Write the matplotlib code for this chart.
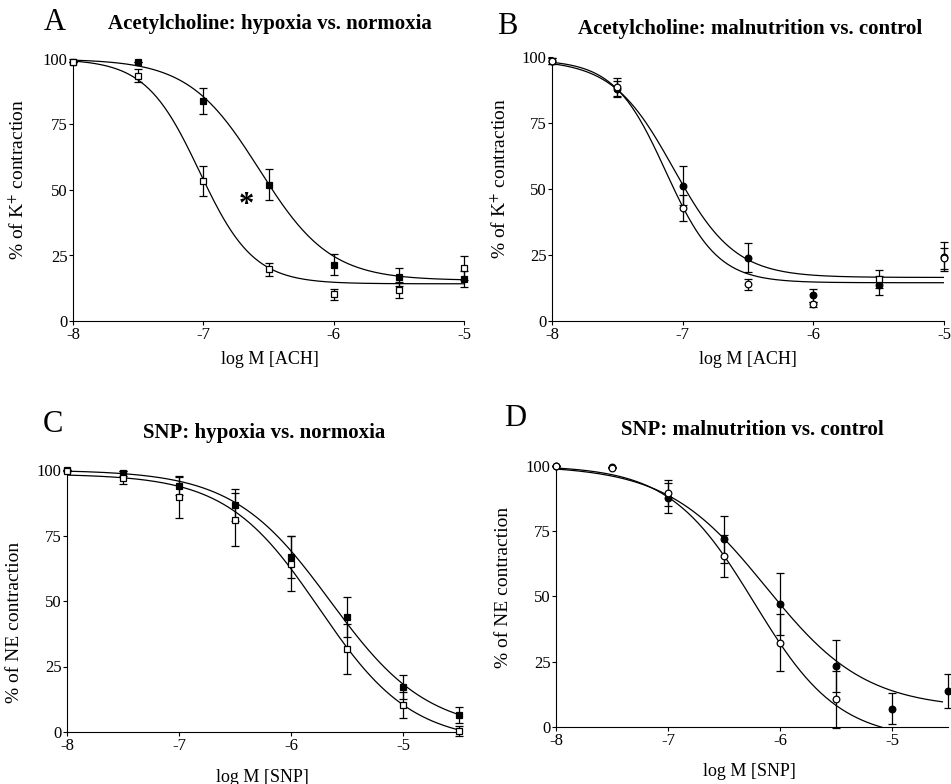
import numpy as np
import matplotlib
matplotlib.use("Agg")
import matplotlib.pyplot as plt

plt.rcParams["font.family"] = ["Liberation Serif", "DejaVu Serif"]
plt.rcParams["mathtext.fontset"] = "stix"

# --- data (log M, % contraction, SEM) ---
ach_x = [-8, -7.5, -7, -6.5, -6, -5.5, -5]
a_hyp = [99, 99, 84, 52, 21.5, 16.7, 16]
a_hyp_err = [0, 0, 5, 6, 4, 3.5, 3]
a_norm = [99, 93.6, 53.4, 19.8, 10.2, 11.9, 20.2]
a_norm_err = [0, 2.5, 5.7, 2.5, 2, 3, 4.5]

b_maln = [98.5, 87.8, 51.3, 23.9, 9.7, 13.5, 24.3]
b_maln_err = [1, 3, 7.5, 5.5, 2.5, 3.5, 5.5]
b_ctrl = [98.5, 88.6, 42.7, 13.9, 6.3, 16, 23.7]
b_ctrl_err = [1, 3.5, 5, 2, 1, 3.5, 4]

snp_x = [-8, -7.5, -7, -6.5, -6, -5.5, -5, -4.5]
c_hyp = [100, 98.7, 94, 86.6, 66.9, 43.9, 17.2, 6.4]
c_hyp_err = [0, 1, 3.5, 6, 8, 7.5, 4.5, 3]
c_norm = [99.7, 97.1, 89.6, 81.1, 64.3, 31.8, 10.2, 0.4]
c_norm_err = [0, 2.5, 8, 10, 10.5, 9.5, 5, 2]

d_maln = [100, 99.4, 87.5, 71.8, 47, 23.2, 7.0, 13.7]
d_maln_err = [0, 0, 5.7, 9, 12, 10, 6, 6.5]
d_ctrl = [100, 99, 89.4, 65.5, 32.3, 10.6]
d_ctrl_err = [0, 0, 5, 8, 11, 11]

# fitted curves: top, bottom, logEC50, hill slope
a_hyp_fit = [100, 15.5, -6.57, 1.6]
a_norm_fit = [100, 14.2, -7.03, 2.1]
b_maln_fit = [99, 16.5, -7.07, 1.85]
b_ctrl_fit = [99, 14.5, -7.13, 2.2]
c_hyp_fit = [100, 0, -5.65, 1.0]
c_norm_fit = [98.5, -4, -5.75, 1.05]
d_maln_fit = [100, 7, -6.125, 0.976]
d_ctrl_fit = [100, -5, -6.23, 1.15]


def hill(x, p):
    top, bottom, x50, h = p
    return bottom + (top - bottom) / (1 + 10 ** ((x - x50) * h))


def series(ax, x, y, err, fit, filled, marker, xmax):
    face = "black" if filled else "white"
    ax.errorbar(x, y, yerr=err, fmt="none", ecolor="black", elinewidth=0.9,
                capsize=2.6, capthick=0.9, clip_on=False, zorder=3)
    markers = marker if isinstance(marker, list) else [marker] * len(x)
    for xi, yi, m in zip(x, y, markers):
        ax.plot(xi, yi, linestyle="none", marker=m, markersize=4.8,
                markerfacecolor=face, markeredgecolor="black", markeredgewidth=0.9,
                clip_on=False, zorder=4)
    xs = np.linspace(-8, xmax, 300)
    ax.plot(xs, hill(xs, fit), color="black", linewidth=0.9, zorder=2)


def style(ax, xmax, xticks, ylab, ylab_x, ylab_y):
    ax.set_xlim(-8, xmax)
    ax.set_ylim(0, 100)
    ax.set_xticks(xticks)
    ax.set_xticklabels([str(t) for t in xticks])
    ax.set_yticks([0, 25, 50, 75, 100])
    ax.spines["top"].set_visible(False)
    ax.spines["right"].set_visible(False)
    ax.tick_params(direction="out", length=3, width=0.8, labelsize=12, pad=1)
    ax.set_ylabel(ylab, fontsize=14)
    ax.yaxis.set_label_coords(ylab_x, ylab_y)


W, H = 951, 784
fig = plt.figure(figsize=(W / 100, H / 100), dpi=100)


def axes_px(left, right, top, bottom):
    return fig.add_axes([left / W, 1 - bottom / H, (right - left) / W, (bottom - top) / H])


kplus = "% of K$^{+}$ contraction"
ne = "% of NE contraction"

# A
ax = axes_px(73, 464, 59, 321)
series(ax, ach_x, a_hyp, a_hyp_err, a_hyp_fit, True, "s", -5)
series(ax, ach_x, a_norm, a_norm_err, a_norm_fit, False, "s", -5)
style(ax, -5, [-8, -7, -6, -5], kplus, -0.115, 0.54)
ax.text(-6.67, 44, "*", fontsize=22, fontweight="bold", ha="center", va="center")

# B  (the original shows the control point at -5.5 as an open square)
ax = axes_px(552, 944, 57, 321)
series(ax, ach_x, b_maln, b_maln_err, b_maln_fit, True, "o", -5)
series(ax, ach_x, b_ctrl, b_ctrl_err, b_ctrl_fit, False,
       ["o", "o", "o", "o", "o", "s", "o"], -5)
style(ax, -5, [-8, -7, -6, -5], kplus, -0.108, 0.54)

# C
ax = axes_px(67, 459, 470, 732)
series(ax, snp_x, c_hyp, c_hyp_err, c_hyp_fit, True, "s", -4.5)
series(ax, snp_x, c_norm, c_norm_err, c_norm_fit, False, "s", -4.5)
style(ax, -4.5, [-8, -7, -6, -5], ne, -0.112, 0.42)

# D
ax = axes_px(556, 948, 465.5, 727)
series(ax, snp_x, d_maln, d_maln_err, d_maln_fit, True, "o", -4.55)
series(ax, snp_x[:len(d_ctrl)], d_ctrl, d_ctrl_err, d_ctrl_fit, False, "o", -4.55)
style(ax, -4.5, [-8, -7, -6, -5], ne, -0.112, 0.535)

# titles, panel letters, x labels (pixel positions)
labels = [
    ("A", 55, 23, "Acetylcholine: hypoxia vs. normoxia", 270, 24, "log M [ACH]", 270, 360),
    ("B", 507, 27, "Acetylcholine: malnutrition vs. control", 750, 29, "log M [ACH]", 748, 360),
    ("C", 53, 425, "SNP: hypoxia vs. normoxia", 264, 433, "log M [SNP]", 262, 777),
    ("D", 515, 418, "SNP: malnutrition vs. control", 752, 430, "log M [SNP]", 749, 772),
]
for let, lx, ly, title, tx, ty, xl, xx, xy in labels:
    fig.text(lx / W, 1 - ly / H, let, fontsize=22, ha="center", va="center")
    fig.text(tx / W, 1 - ty / H, title, fontsize=15, fontweight="bold", ha="center", va="center")
    fig.text(xx / W, 1 - xy / H, xl, fontsize=13, ha="center", va="center")

fig.savefig("out.png", dpi=100)
